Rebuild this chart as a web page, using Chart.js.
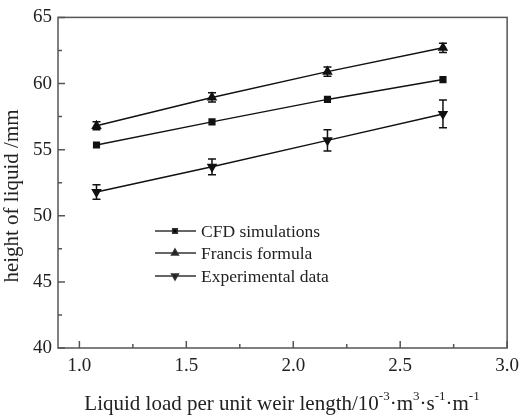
<!DOCTYPE html>
<html>
<head>
<meta charset="utf-8">
<script src="https://cdn.jsdelivr.net/npm/chart.js@4/dist/chart.umd.min.js"></script>
<style>
  html, body { margin: 0; padding: 0; background: #fff; }
  #wrap { width: 526px; height: 417px; position: relative; }
</style>
</head>
<body>
<div id="wrap"><canvas id="weirChart"></canvas></div>
<script>

/* ---------------- DATA ---------------- */

const liquidLoad = [1.08, 1.62, 2.16, 2.70];

const cfdHeight = [55.35, 57.1, 58.8, 60.3];
const francisHeight = [56.8, 58.95, 60.9, 62.7];
const francisErr = [0.3, 0.35, 0.35, 0.35];
const expHeight = [51.8, 53.7, 55.7, 57.7];
const expErr = [0.55, 0.6, 0.8, 1.05];

const seriesNames = ["CFD simulations", "Francis formula", "Experimental data"];

const xTicks = [1.0, 1.5, 2.0, 2.5, 3.0];
const xMinor = [1.25, 1.75, 2.25, 2.75];
const yTicks = [40, 45, 50, 55, 60, 65];
const yMinor = [42.5, 47.5, 52.5, 57.5, 62.5];

const xTitle = ["Liquid load per unit weir length/10", "-3", "\u00b7m", "3", "\u00b7s", "-1", "\u00b7m", "-1"];
const yTitle = "height of liquid /mm";

/* ---------------- HELPERS ---------------- */

const serif = "'Liberation Serif', 'Times New Roman', serif";
const frameColor = "#555";

function points(ys) {
    return liquidLoad.map((x, i) => ({ x: x, y: ys[i] }));
}

/* error bars, frame, ticks, titles and legend */
const decorPlugin = {
    id: "decor",
    afterDatasetsDraw(chart) {
        const ctx = chart.ctx;
        const xs = chart.scales.x;
        const ys = chart.scales.y;

        // error bars
        const bars = [[francisHeight, francisErr], [expHeight, expErr]];
        ctx.save();
        ctx.strokeStyle = "#111";
        ctx.lineWidth = 1.5;
        bars.forEach(([vals, errs]) => {
            vals.forEach((v, i) => {
                const px = xs.getPixelForValue(liquidLoad[i]);
                const top = ys.getPixelForValue(v + errs[i]);
                const bot = ys.getPixelForValue(v - errs[i]);
                ctx.beginPath();
                ctx.moveTo(px, top); ctx.lineTo(px, bot);
                ctx.moveTo(px - 4, top); ctx.lineTo(px + 4, top);
                ctx.moveTo(px - 4, bot); ctx.lineTo(px + 4, bot);
                ctx.stroke();
            });
        });
        ctx.restore();
    },
    afterDraw(chart) {
        const ctx = chart.ctx;
        const a = chart.chartArea;
        const xs = chart.scales.x;
        const ys = chart.scales.y;

        ctx.save();
        ctx.strokeStyle = frameColor;
        ctx.lineWidth = 1.5;
        ctx.strokeRect(a.left, a.top, a.right - a.left, a.bottom - a.top);

        // inward ticks
        ctx.beginPath();
        xTicks.forEach(t => {
            const p = xs.getPixelForValue(t);
            ctx.moveTo(p, a.bottom); ctx.lineTo(p, a.bottom - 7);
        });
        xMinor.forEach(t => {
            const p = xs.getPixelForValue(t);
            ctx.moveTo(p, a.bottom); ctx.lineTo(p, a.bottom - 4);
        });
        yTicks.forEach(t => {
            const p = ys.getPixelForValue(t);
            ctx.moveTo(a.left, p); ctx.lineTo(a.left + 7, p);
        });
        yMinor.forEach(t => {
            const p = ys.getPixelForValue(t);
            ctx.moveTo(a.left, p); ctx.lineTo(a.left + 4, p);
        });
        ctx.stroke();
        ctx.restore();

        // x title with superscripts
        ctx.save();
        ctx.fillStyle = "#222";
        ctx.textBaseline = "alphabetic";
        const big = "21px " + serif;
        const small = "13px " + serif;
        let total = 0;
        xTitle.forEach((s, i) => {
            ctx.font = (i % 2 === 0) ? big : small;
            total += ctx.measureText(s).width;
        });
        let cx = 282 - total / 2;
        const base = 410;
        xTitle.forEach((s, i) => {
            const sup = i % 2 === 1;
            ctx.font = sup ? small : big;
            ctx.fillText(s, cx, sup ? base - 10 : base);
            cx += ctx.measureText(s).width;
        });
        ctx.restore();

        // y title
        ctx.save();
        ctx.fillStyle = "#222";
        ctx.font = "21px " + serif;
        ctx.translate(12, 196);
        ctx.rotate(-Math.PI / 2);
        ctx.textAlign = "center";
        ctx.textBaseline = "middle";
        ctx.fillText(yTitle, 0, 0);
        ctx.restore();

        // legend
        ctx.save();
        const rows = [231, 253, 276];
        chart.data.datasets.forEach((ds, i) => {
            const y = rows[i];
            ctx.strokeStyle = "#333";
            ctx.lineWidth = 1.5;
            ctx.beginPath();
            ctx.moveTo(155, y); ctx.lineTo(196, y);
            ctx.stroke();
            Chart.helpers.drawPoint(ctx, {
                pointStyle: ds.pointStyle,
                rotation: ds.rotation || 0,
                radius: ds.pointRadius - 0.7,
                borderWidth: 1
            }, 175, y);
            ctx.fillStyle = "#222";
            ctx.font = "17.5px " + serif;
            ctx.textBaseline = "middle";
            ctx.fillText(ds.label, 201, y + 1);
        });
        ctx.restore();
    }
};

/* ---------------- CHART ---------------- */

function makeSet(label, ys, style, radius, rotation) {
    return {
        label: label,
        data: points(ys),
        borderColor: "#111",
        backgroundColor: "#111",
        borderWidth: 1.5,
        pointStyle: style,
        pointRadius: radius,
        pointRotation: rotation,
        rotation: rotation,
        pointBackgroundColor: "#111",
        pointBorderColor: "#111",
        tension: 0
    };
}

new Chart(document.getElementById("weirChart"), {
    type: "line",
    data: {
        datasets: [
            makeSet(seriesNames[0], cfdHeight, "rect", 4, 0),
            makeSet(seriesNames[1], francisHeight, "triangle", 4.6, 0),
            makeSet(seriesNames[2], expHeight, "triangle", 4.6, 180)
        ]
    },
    options: {
        responsive: true,
        maintainAspectRatio: false,
        animation: false,
        layout: { padding: { top: 17, right: 14, left: 0, bottom: 0 } },
        plugins: { legend: { display: false }, tooltip: { enabled: false } },
        scales: {
            x: {
                type: "linear",
                min: 0.9,
                max: 3.0,
                afterBuildTicks: s => { s.ticks = xTicks.map(v => ({ value: v })); },
                afterFit: s => { s.height = 69; },
                grid: { display: false, drawTicks: false },
                border: { display: false },
                ticks: {
                    padding: 7,
                    color: "#222",
                    font: { family: serif, size: 19 },
                    callback: v => v.toFixed(1)
                }
            },
            y: {
                min: 40,
                max: 65,
                afterBuildTicks: s => { s.ticks = yTicks.map(v => ({ value: v })); },
                afterFit: s => { s.width = 58; },
                grid: { display: false, drawTicks: false },
                border: { display: false },
                ticks: {
                    padding: 6,
                    color: "#222",
                    font: { family: serif, size: 19 }
                }
            }
        }
    },
    plugins: [decorPlugin]
});

</script>
</body>
</html>
